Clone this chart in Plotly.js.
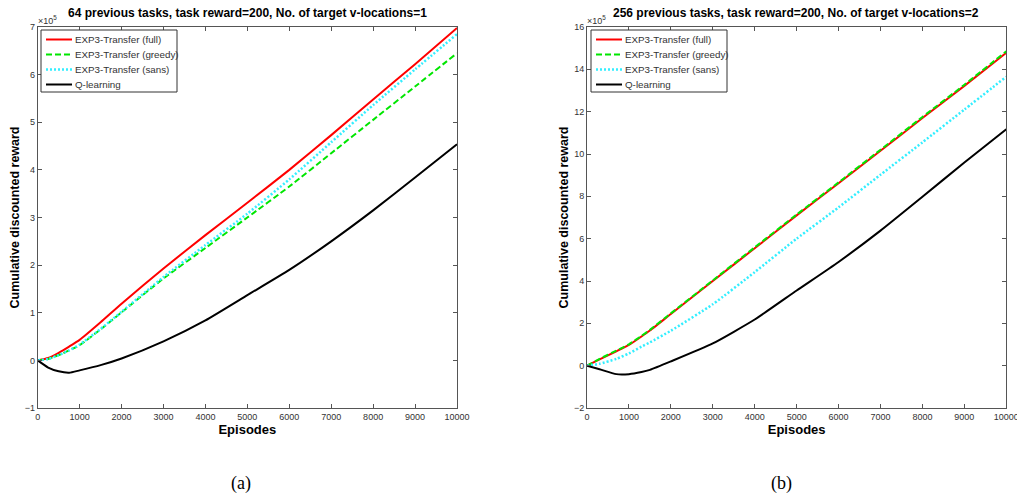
<!DOCTYPE html>
<html>
<head>
<meta charset="utf-8">
<script src="https://cdn.plot.ly/plotly-3.0.1.min.js"></script>
<style>html,body{margin:0;padding:0;background:#fff;}#chart{width:1017px;height:495px;}</style>
</head>
<body>
<div id="chart"></div>
<script>
// ---- Panel (a): 64 previous tasks, 1 target v-location (values in units of 1e5)
const episodesA = [0, 250, 500, 750, 1000, 1500, 2000, 3000, 4000, 5000, 6000, 7000, 8000, 9000, 10000];
const fullA     = [0, 0.05, 0.16, 0.29, 0.43, 0.80, 1.19, 1.93, 2.63, 3.31, 4.00, 4.73, 5.48, 6.22, 6.98];
const greedyA   = [0, 0.03, 0.11, 0.21, 0.32, 0.65, 1.01, 1.72, 2.36, 3.00, 3.65, 4.35, 5.05, 5.75, 6.45];
const sansA     = [0, 0.03, 0.11, 0.21, 0.33, 0.66, 1.02, 1.75, 2.42, 3.08, 3.80, 4.58, 5.36, 6.11, 6.85];
const qlearnA   = [0, -0.15, -0.23, -0.26, -0.21, -0.10, 0.04, 0.40, 0.84, 1.37, 1.90, 2.50, 3.15, 3.84, 4.54];

// ---- Panel (b): 256 previous tasks, 2 target v-locations (values in units of 1e5)
const episodesB = [0, 300, 700, 1000, 1300, 1500, 2000, 3000, 4000, 5000, 6000, 7000, 8000, 9000, 10000];
const fullB     = [0, 0.30, 0.68, 0.98, 1.38, 1.66, 2.44, 4.00, 5.55, 7.10, 8.62, 10.15, 11.70, 13.22, 14.78];
const greedyB   = [0, 0.32, 0.71, 1.01, 1.41, 1.69, 2.47, 4.03, 5.59, 7.14, 8.66, 10.20, 11.75, 13.27, 14.85];
const sansB     = [0, 0.09, 0.32, 0.58, 0.90, 1.10, 1.65, 2.90, 4.42, 6.00, 7.48, 9.02, 10.55, 12.10, 13.65];
const qlearnB   = [0, -0.17, -0.40, -0.40, -0.30, -0.20, 0.20, 1.05, 2.18, 3.55, 4.90, 6.38, 7.98, 9.60, 11.17];

const seriesNames = ["EXP3-Transfer (full)", "EXP3-Transfer (greedy)", "EXP3-Transfer (sans)", "Q-learning"];
const titles = ["64 previous tasks, task reward=200, No. of target v-locations=1",
                "256 previous tasks, task reward=200, No. of target v-locations=2"];
const captions = ["(a)", "(b)"];
const xTickVals = [0, 1000, 2000, 3000, 4000, 5000, 6000, 7000, 8000, 9000, 10000];
const xTickText = ["0", "1000", "2000", "3000", "4000", "5000", "6000", "7000", "8000", "9000", "10000"];

const styles = [
  {color: "#ff0000", width: 2, dash: "solid"},
  {color: "#00e600", width: 2, dash: "6px,3px"},
  {color: "#33eeff", width: 2.5, dash: "2px,2px"},
  {color: "#000000", width: 2, dash: "solid"}
];

function makeTraces(x, ys, xa, ya) {
  return ys.map((y, i) => ({
    x: x, y: y, type: "scatter", mode: "lines", name: seriesNames[i],
    xaxis: xa, yaxis: ya, showlegend: false,
    line: {color: styles[i].color, width: styles[i].width, dash: styles[i].dash,
           shape: "spline", smoothing: 0.5}
  }));
}

const traces = [].concat(
  makeTraces(episodesA, [fullA, greedyA, sansA, qlearnA], "x", "y"),
  makeTraces(episodesB, [fullB, greedyB, sansB, qlearnB], "x2", "y2")
);

const FONT = "Liberation Sans, Arial, sans-serif";
const tickFont = {family: FONT, size: 9, color: "#333"};
const boldFont = {family: FONT, size: 13, color: "#000", weight: "bold"};
const yTitleFont = {family: FONT, size: 12.5, color: "#000", weight: "bold"};

function xAxis(dom, anchor) {
  return {
    domain: dom, anchor: anchor, range: [0, 10000], tickvals: xTickVals, ticktext: xTickText,
    ticks: "inside", ticklen: 4, tickcolor: "#555", showline: true, linecolor: "#555",
    linewidth: 1, mirror: "allticks", showgrid: false, zeroline: false,
    ticklabeloverflow: "allow",
    tickfont: tickFont, title: {text: "Episodes", font: boldFont, standoff: 4}
  };
}
function yAxis(dom, anchor, range, dtick) {
  return {
    domain: dom, anchor: anchor, range: range, dtick: dtick,
    ticks: "inside", ticklen: 4, tickcolor: "#555", showline: true, linecolor: "#555",
    linewidth: 1, mirror: "allticks", showgrid: false, zeroline: false,
    tickfont: tickFont, title: {text: "Cumulative discounted reward", font: yTitleFont, standoff: 2}
  };
}

const yDom = [1 - 408 / 495, 1 - 27 / 495];

// Custom legend boxes (layout decoration, in pixel -> paper coords)
const W = 1017, H = 495;
const legendOrigins = [41, 591];
const legendRowY = [39.5, 54.5, 69.5, 84.5];
const shapes = [];
const annotations = [];
legendOrigins.forEach(x0 => {
  shapes.push({type: "rect", xref: "paper", yref: "paper",
    x0: x0 / W, x1: (x0 + 136) / W, y0: 1 - 30 / H, y1: 1 - 92 / H,
    line: {color: "#333", width: 1}, fillcolor: "#fff", layer: "above"});
  seriesNames.forEach((nm, i) => {
    shapes.push({type: "line", xref: "paper", yref: "paper",
      x0: (x0 + 5) / W, x1: (x0 + 31) / W, y0: 1 - legendRowY[i] / H, y1: 1 - legendRowY[i] / H,
      line: {color: styles[i].color, width: styles[i].width, dash: styles[i].dash}, layer: "above"});
    annotations.push({text: nm, xref: "paper", yref: "paper", x: (x0 + 32) / W, y: 1 - legendRowY[i] / H,
      xanchor: "left", yanchor: "middle", showarrow: false,
      font: {family: FONT, size: 9.8, color: "#333"}});
  });
});

annotations.push(
  {text: "<b>" + titles[0] + "</b>", xref: "paper", yref: "paper", x: 247 / W, y: 1 - 13 / H,
   xanchor: "center", yanchor: "middle", showarrow: false, font: {family: FONT, size: 12, color: "#000"}},
  {text: "<b>" + titles[1] + "</b>", xref: "paper", yref: "paper", x: 796 / W, y: 1 - 13 / H,
   xanchor: "center", yanchor: "middle", showarrow: false, font: {family: FONT, size: 12, color: "#000"}},
  {text: "×10<sup>5</sup>", xref: "paper", yref: "paper", x: 36 / W, y: 1 - 20 / H,
   xanchor: "left", yanchor: "middle", showarrow: false, font: tickFont},
  {text: "×10<sup>5</sup>", xref: "paper", yref: "paper", x: 585 / W, y: 1 - 20 / H,
   xanchor: "left", yanchor: "middle", showarrow: false, font: tickFont},
  {text: captions[0], xref: "paper", yref: "paper", x: 241 / W, y: 1 - 483 / H,
   xanchor: "center", yanchor: "middle", showarrow: false,
   font: {family: "Liberation Serif, Times New Roman, serif", size: 18, color: "#000"}},
  {text: captions[1], xref: "paper", yref: "paper", x: 781 / W, y: 1 - 483 / H,
   xanchor: "center", yanchor: "middle", showarrow: false,
   font: {family: "Liberation Serif, Times New Roman, serif", size: 18, color: "#000"}}
);

const layout = {
  width: W, height: H,
  margin: {l: 0, r: 0, t: 0, b: 0},
  paper_bgcolor: "#fff", plot_bgcolor: "#fff",
  showlegend: false,
  xaxis: xAxis([37.7 / W, 457 / W], "y"),
  yaxis: yAxis(yDom, "x", [-1, 7], 1),
  xaxis2: xAxis([587 / W, 1006.3 / W], "y2"),
  yaxis2: yAxis(yDom, "x2", [-2, 16], 2),
  shapes: shapes,
  annotations: annotations
};

Plotly.newPlot("chart", traces, layout, {staticPlot: true, displayModeBar: false});
</script>
</body>
</html>
